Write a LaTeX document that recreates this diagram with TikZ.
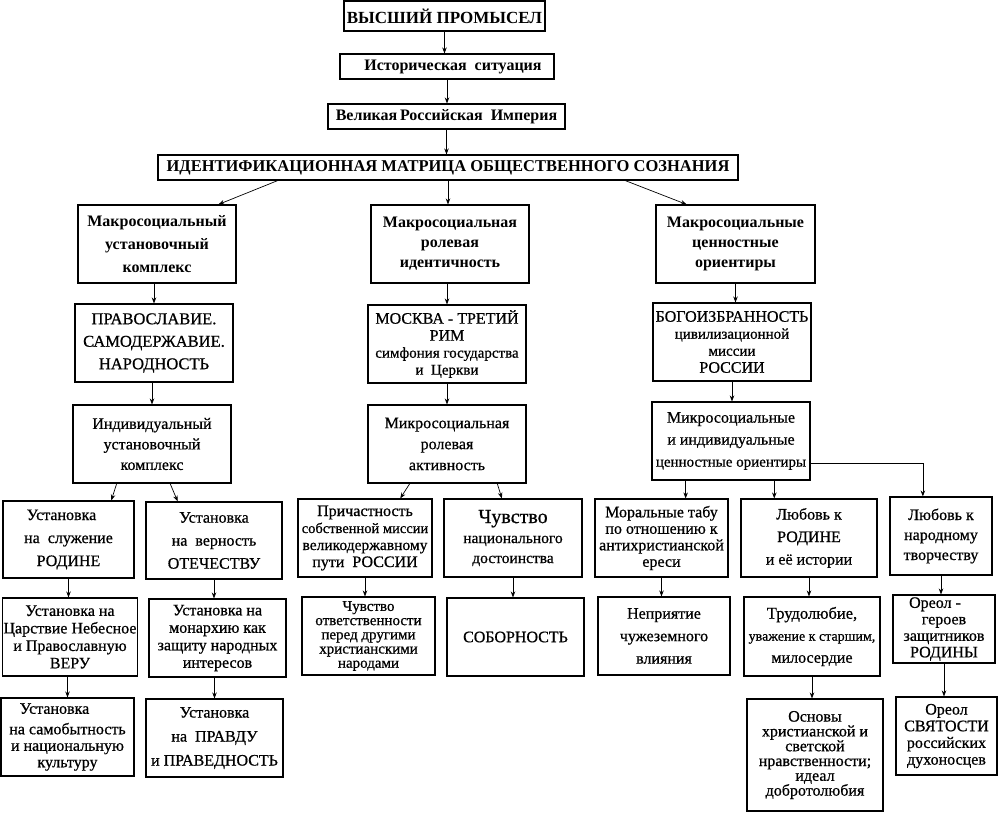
\documentclass[tikz,border=0pt]{standalone}
\usepackage{fontspec}
\setmainfont{Liberation Serif}[UprightFeatures={FakeBold=0.7}]
\usetikzlibrary{arrows.meta,calc}
\newcommand\fs[2]{\fontsize{#1}{#2}\selectfont}
\tikzset{
 box/.style={draw, line width=1.1pt, inner sep=1pt, align=center, text=black},
 hd/.style={box, font=\bfseries\fs{17}{20}},
 arr/.style={line width=0.7pt, -{Stealth[length=6pt,width=4.5pt]}},
}
\begin{document}
\begin{tikzpicture}[x=1pt,y=-1pt]
\useasboundingbox (0,0) rectangle (999,812);
% top chain
\node[hd, minimum width=201pt, minimum height=30pt] (A) at (444.5,16) {ВЫСШИЙ ПРОМЫСЕЛ};
\node[hd, minimum width=214pt, minimum height=25pt, font=\bfseries\fs{16}{19}] (B) at (447,66.5) {\hspace*{12pt}Историческая\ \ ситуация};
\node[hd, minimum width=237pt, minimum height=25pt, font=\bfseries\fs{16}{19}] (C) at (446.5,116.5) {Великая\,Российская\ \ Империя};
\node[hd, minimum width=580pt, minimum height=25pt, font=\bfseries\fs{16.5}{19}] (D) at (448,167.5) {ИДЕНТИФИКАЦИОННАЯ МАТРИЦА ОБЩЕСТВЕННОГО СОЗНАНИЯ};
% macro level
\node[hd, minimum width=158pt, minimum height=78pt, font=\bfseries\fs{16}{23}] (E1) at (157,244) {Макросоциальный\\установочный\\комплекс};
\node[hd, minimum width=158pt, minimum height=78pt, font=\bfseries\fs{16}{20}] (E2) at (450,244) {Макросоциальная\\ролевая\\идентичность};
\node[hd, minimum width=159pt, minimum height=78pt, font=\bfseries\fs{16}{20}] (E3) at (735.5,244) {Макросоциальные\\ценностные\\ориентиры};
% F level
\node[box, minimum width=158pt, minimum height=78pt, font=\fs{16.5}{22.5}] (F1) at (154,343) {ПРАВОСЛАВИЕ.\\САМОДЕРЖАВИЕ.\\НАРОДНОСТЬ};
\node[box, minimum width=158pt, minimum height=78pt, font=\fs{16}{17}] (F2) at (447,344) {МОСКВА - ТРЕТИЙ\\РИМ\\\fs{15}{19}симфония государства\\\fs{15}{14}и\ \ Церкви};
\node[box, minimum width=158pt, minimum height=78pt, font=\fs{16}{17}] (F3) at (732,342) {БОГОИЗБРАННОСТЬ\\\fs{15}{17}цивилизационной\\\fs{15}{17}миссии\\РОССИИ};
% G level
\node[box, minimum width=158pt, minimum height=78pt, font=\fs{16}{20.5}] (G1) at (152,444) {Индивидуальный\\установочный\\комплекс};
\node[box, minimum width=158pt, minimum height=78pt, font=\fs{16}{21}] (G2) at (447,444) {Микросоциальная\\ролевая\\активность};
\node[box, minimum width=158pt, minimum height=78pt, font=\fs{16}{22}] (G3) at (731,441) {Микросоциальные\\и индивидуальные\\\fs{15}{22}ценностные ориентиры};
% H level
\node[box, minimum width=131pt, minimum height=77pt, font=\fs{16}{23}] (H1) at (68.5,539.5) {Установка\hspace*{14pt}\\на\ \ служение\\РОДИНЕ};
\node[box, minimum width=136pt, minimum height=77pt, font=\fs{16}{23}] (H2) at (214,540.5) {Установка\\на\ \ верность\\ОТЕЧЕСТВУ};
\node[box, minimum width=134pt, minimum height=78pt, font=\fs{16}{17}] (H3) at (365,538) {Причастность\\\fs{14.5}{16.5}собственной миссии\\\fs{15.5}{17}великодержавному\\\fs{16}{18}пути\ \ РОССИИ};
\node[box, minimum width=138pt, minimum height=78pt, font=\fs{20}{20}] (H4) at (513,538) {Чувство\\\fs{15.5}{24}национального\\\fs{15.5}{21}достоинства};
\node[box, minimum width=133pt, minimum height=78pt, font=\fs{16}{16.5}] (H5) at (661.5,538) {Моральные табу\\по отношению к\\антихристианской\\ереси};
\node[box, minimum width=136pt, minimum height=78pt, font=\fs{16}{22.5}] (H6) at (809,538) {Любовь к\\РОДИНЕ\\и её истории};
\node[box, minimum width=102pt, minimum height=78pt, font=\fs{16}{20}] (H7) at (941,536) {Любовь к\\народному\\творчеству};
% I level
\node[box, minimum width=134pt, minimum height=78pt, font=\fs{16}{17.5}] (I1) at (70,637) {Установка на\\Царствие Небесное\\и Православную\\ВЕРУ};
\node[box, minimum width=137pt, minimum height=78pt, font=\fs{16}{17.5}] (I2) at (217.5,638) {Установка на\\монархию как\\защиту народных\\интересов};
\node[box, minimum width=133pt, minimum height=78pt, font=\fs{15}{14.2}] (I3) at (368.5,636) {Чувство\\ответственности\\перед другими\\христианскими\\народами};
\node[box, minimum width=137pt, minimum height=78pt, font=\fs{16}{19}] (I4) at (515.5,637) {СОБОРНОСТЬ};
\node[box, minimum width=132pt, minimum height=78pt, font=\fs{16}{22.5}] (I5) at (664,636) {Неприятие\\чужеземного\\влияния};
\node[box, minimum width=136pt, minimum height=79pt, font=\fs{16.5}{22}] (I6) at (812,636.5) {Трудолюбие,\\\fs{14}{24}уважение к старшим,\\\fs{16}{21}милосердие};
\node[box, minimum width=102pt, minimum height=68pt, font=\fs{16}{16.5}] (I7) at (944,629) {Ореол -\hspace*{18pt}\\героев\\защитников\\РОДИНЫ};
% J level
\node[box, minimum width=133pt, minimum height=78pt, font=\fs{16}{16.5}] (J1) at (67.5,737) {Установка\hspace*{26pt}\\[4pt]на самобытность\\и национальную\\культуру};
\node[box, minimum width=137pt, minimum height=78pt, font=\fs{16}{24}] (J2) at (214.5,738) {Установка\\на\ \ ПРАВДУ\\и ПРАВЕДНОСТЬ};
\node[box, minimum width=136pt, minimum height=112pt, font=\fs{16}{14.8}] (J3) at (815,755) {Основы\\христианской и\\светской\\нравственности;\\идеал\\добротолюбия};
\node[box, minimum width=101pt, minimum height=78pt, font=\fs{16}{16.7}] (J4) at (946.5,736) {Ореол\\СВЯТОСТИ\\российских\\духоносцев};
% connectors
\draw[arr] (A.south) -- (A.south |- B.north);
\draw[arr] (B.south) -- (B.south |- C.north);
\draw[arr] (C.south) -- (C.south |- D.north);
\draw[arr] ($(D.south west)!0.207!(D.south east)$) -- ($(E1.north west)!0.886!(E1.north east)$);
\draw[arr] (D.south) -- (D.south |- E2.north);
\draw[arr] ($(D.south west)!0.805!(D.south east)$) -- ($(E3.north west)!0.195!(E3.north east)$);
\draw[arr] (F1.north |- E1.south) -- (F1.north);
\draw[arr] (F2.north |- E2.south) -- (F2.north);
\draw[arr] (E3.south) -- (E3.south |- F3.north);
\draw[arr] (G1.north |- F1.south) -- (G1.north);
\draw[arr] (F2.south) -- (F2.south |- G2.north);
\draw[arr] (F3.south) -- (F3.south |- G3.north);
\draw[arr] ($(G1.south west)!0.278!(G1.south east)$) -- ($(H1.north west)!0.824!(H1.north east)$);
\draw[arr] ($(G1.south west)!0.614!(G1.south east)$) -- ($(H2.north west)!0.235!(H2.north east)$);
\draw[arr] ($(G2.south west)!0.266!(G2.south east)$) -- ($(H3.north west)!0.761!(H3.north east)$);
\draw[arr] ($(G2.south west)!0.816!(G2.south east)$) -- ($(H4.north west)!0.42!(H4.north east)$);
\coordinate (g3a) at ($(G3.south west)!0.215!(G3.south east)$);
\coordinate (g3b) at ($(G3.south west)!0.772!(G3.south east)$);
\coordinate (g3e) at ($(G3.north east)!0.782!(G3.south east)$);
\coordinate (h7n) at ($(H7.north west)!0.324!(H7.north east)$);
\draw[arr] (g3a) -- (g3a |- H5.north);
\draw[arr] (g3b) -- (g3b |- H6.north);
\draw[arr] (g3e) -| (h7n);
\draw[arr] (H1.south) -- (H1.south |- I1.north);
\draw[arr] (H2.south) -- (H2.south |- I2.north);
\draw[arr] (H3.south) -- (H3.south |- I3.north);
\draw[arr] (H4.south) -- (H4.south |- I4.north);
\draw[arr] (H5.south) -- (H5.south |- I5.north);
\draw[arr] (H6.south) -- (H6.south |- I6.north);
\draw[arr] (H7.south) -- (H7.south |- I7.north);
\draw[arr] (J1.north |- I1.south) -- (J1.north);
\draw[arr] (J2.north |- I2.south) -- (J2.north);
\draw[arr] (I6.south) -- (I6.south |- J3.north);
\draw[arr] (I7.south) -- (I7.south |- J4.north);
\end{tikzpicture}
\end{document}
